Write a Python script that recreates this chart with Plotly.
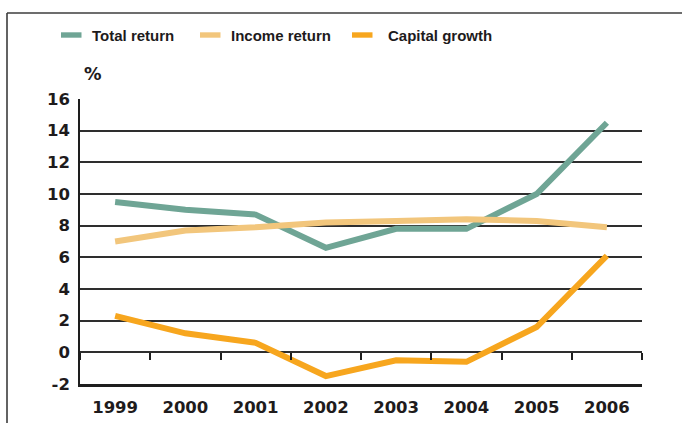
import plotly.graph_objects as go

# Annual returns, per cent
years = ["1999", "2000", "2001", "2002", "2003", "2004", "2005", "2006"]
total_return = [9.5, 9.0, 8.7, 6.6, 7.8, 7.8, 10.0, 14.5]
income_return = [7.0, 7.7, 7.9, 8.2, 8.3, 8.4, 8.3, 7.9]
capital_growth = [2.3, 1.2, 0.6, -1.5, -0.5, -0.6, 1.6, 6.1]

series_names = ["Total return", "Income return", "Capital growth"]
series_colors = ["#6FA595", "#F2C67C", "#F7A61E"]
y_ticks = list(range(-2, 17, 2))

W, H = 682, 423
L, R, T, B = 80, 40, 99, 39
PW, PH = W - L - R, H - T - B


def px_x(px):
    return (px - L) / PW


def px_y(py):
    return (H - B - py) / PH


ink = "#1E1B1C"
grid = "#2E2E2E"
num_font = dict(family="DejaVu Sans", size=16.5, color=ink)
leg_font = dict(family="Liberation Sans, Arial", size=15, color=ink)

fig = go.Figure()
for name, vals, col in zip(series_names, [total_return, income_return, capital_growth], series_colors):
    fig.add_trace(go.Scatter(
        x=years, y=vals, name=name, mode="lines",
        line=dict(color=col, width=6), showlegend=False, hoverinfo="skip",
    ))

# invisible carrier for the boundary ticks along the zero line
fig.add_trace(go.Scatter(
    x=years, y=income_return, xaxis="x2", mode="lines",
    line=dict(width=0), opacity=0, showlegend=False, hoverinfo="skip",
))

shapes = []
annotations = []

# hand-built legend row
leg_items = [(61, 90), (200, 229), (352, 385.5)]
for (sx, tx), name, col in zip(leg_items, series_names, series_colors):
    shapes.append(dict(type="rect", xref="paper", yref="paper",
                       x0=px_x(sx), x1=px_x(sx + 20.5), y0=px_y(37.7), y1=px_y(32.3),
                       fillcolor=col, line=dict(width=0), layer="above"))
    annotations.append(dict(xref="paper", yref="paper", x=px_x(tx), y=px_y(35.5),
                            text="<b>" + name + "</b>", showarrow=False,
                            xanchor="left", yanchor="middle", font=leg_font))

# unit label
annotations.append(dict(xref="paper", yref="paper", x=px_x(82), y=px_y(74),
                        text="<b>%</b>", showarrow=False, xanchor="left",
                        yanchor="middle", font=dict(family="DejaVu Sans", size=17.5, color=ink)))

# outer frame: top and left edges
frame = dict(color="#3C3C3C", width=1.6)
shapes.append(dict(type="line", xref="paper", yref="paper",
                   x0=px_x(7), x1=px_x(W + 5), y0=px_y(13), y1=px_y(13), line=frame))
shapes.append(dict(type="line", xref="paper", yref="paper",
                   x0=px_x(7), x1=px_x(7), y0=px_y(13), y1=px_y(H + 5), line=frame))

fig.update_layout(
    width=W, height=H,
    margin=dict(l=L, r=R, t=T, b=B, autoexpand=False),
    paper_bgcolor="white", plot_bgcolor="white",
    showlegend=False,
    shapes=shapes, annotations=annotations,
    xaxis=dict(
        type="category", categoryorder="array", categoryarray=years,
        range=[-0.5, 7.5], showgrid=False, zeroline=False,
        showline=True, linecolor="#1E1E1E", linewidth=2.6,
        ticks="", tickfont=num_font, ticklabelstandoff=6,
        tickprefix="<b>", ticksuffix="</b>",
    ),
    xaxis2=dict(
        type="category", categoryorder="array", categoryarray=years,
        range=[-0.5, 7.5], overlaying="x", anchor="free",
        position=(0 - y_ticks[0]) / (y_ticks[-1] - y_ticks[0]),
        showgrid=False, zeroline=False, showline=False,
        showticklabels=False, ticks="outside", tickson="boundaries",
        ticklen=7, tickwidth=1.6, tickcolor="#1E1E1E",
    ),
    yaxis=dict(
        range=[y_ticks[0], y_ticks[-1]], tickvals=y_ticks,
        ticktext=["<b>%d</b>" % v for v in y_ticks],
        showgrid=True, gridcolor=grid, gridwidth=1.6, zeroline=False,
        showline=True, linecolor="#1E1E1E", linewidth=1.6,
        ticks="", tickfont=num_font, ticklabelstandoff=5,
    ),
)

fig.write_html("out.html")
